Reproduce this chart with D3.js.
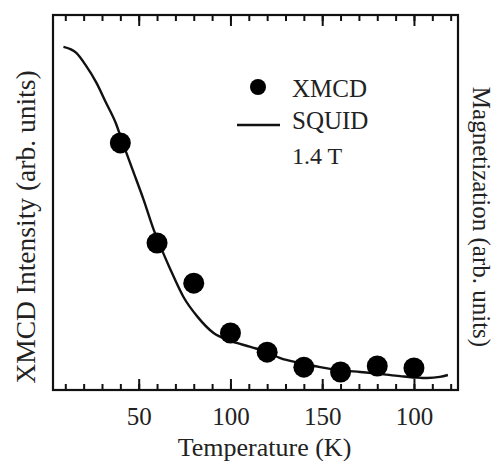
<!DOCTYPE html>
<html>
<head>
<meta charset="utf-8">
<script src="https://cdn.jsdelivr.net/npm/d3@7"></script>
<style>
  html, body { margin: 0; padding: 0; background: #fff; }
  svg { display: block; }
</style>
</head>
<body>
<svg id="chart" width="497" height="461" font-family="Liberation Serif"></svg>
<script>
// XMCD data points (temperature K, intensity arb. units)
const xmcdT = [40, 60, 80, 100, 120, 140, 160, 180, 200];
const xmcdV = [0.659, 0.392, 0.285, 0.152, 0.101, 0.061, 0.048, 0.064, 0.059];

// SQUID magnetization curve at 1.4 T
const squidT = [9, 16, 21, 27, 32, 37.5, 41.3, 46.7, 52.7, 58.2, 62, 67.4, 74.4, 82.1, 90.8, 98.9, 110.9, 120.1, 127.2, 138, 148.9, 159.8, 170.7, 181.5, 192.4, 207.1, 214.1, 218.5];
const squidV = [0.915, 0.899, 0.867, 0.819, 0.768, 0.712, 0.659, 0.587, 0.507, 0.427, 0.381, 0.32, 0.248, 0.195, 0.152, 0.133, 0.115, 0.101, 0.085, 0.072, 0.061, 0.053, 0.048, 0.043, 0.037, 0.032, 0.035, 0.040];

// Tick labels as printed (the last one reads "100" in the original)
const majorTicks = [50, 100, 150, 200];
const majorLabels = ["50", "100", "150", "100"];
const minorTicks = d3.range(10, 221, 10);

const serifStack = "'Liberation Serif', 'Times New Roman', Tinos, serif";
const inkColor = "#222";

const svg = d3.select("#chart");
const L = 53, R = 458, T = 15, B = 390;

const x = d3.scaleLinear().domain([3.3, 224]).range([L, R]);
const y = d3.scaleLinear().domain([0, 1]).range([B, T]);

function label(sel, size) {
  return sel.attr("font-family", "Liberation Serif")
    .style("font-family", serifStack)
    .attr("font-size", size)
    .style("font-size", size + "px")
    .attr("fill", inkColor);
}

// SQUID curve
const line = d3.line().x(d => x(d[0])).y(d => y(d[1])).curve(d3.curveMonotoneX);
svg.append("path")
  .datum(squidT.map((t, i) => [t, squidV[i]]))
  .attr("d", line)
  .attr("fill", "none")
  .attr("stroke", "#111")
  .attr("stroke-width", 2.4);

// XMCD dots
svg.selectAll("circle.pt")
  .data(xmcdT.map((t, i) => [t, xmcdV[i]]))
  .enter().append("circle")
  .attr("class", "pt")
  .attr("cx", d => x(d[0]))
  .attr("cy", d => y(d[1]))
  .attr("r", 10.5)
  .attr("fill", "#000");

// Bottom axis ticks (inward)
const bottomMinor = svg.append("g").attr("transform", `translate(0,${B})`);
bottomMinor.call(d3.axisBottom(x).tickValues(minorTicks).tickSize(-6).tickFormat(""));
const bottomMajor = svg.append("g").attr("transform", `translate(0,${B})`);
bottomMajor.call(d3.axisBottom(x).tickValues(majorTicks).tickSize(-11)
  .tickFormat((d, i) => majorLabels[i]));
// Top axis ticks (inward)
const topMinor = svg.append("g").attr("transform", `translate(0,${T})`);
topMinor.call(d3.axisTop(x).tickValues(minorTicks).tickSize(-6).tickFormat(""));
const topMajor = svg.append("g").attr("transform", `translate(0,${T})`);
topMajor.call(d3.axisTop(x).tickValues(majorTicks).tickSize(-11).tickFormat(""));

svg.selectAll(".domain").remove();
svg.selectAll("g").attr("font-family", "Liberation Serif");
svg.selectAll(".tick line").attr("stroke", "#111").attr("stroke-width", 2);
label(bottomMajor.selectAll(".tick text"), 25)
  .attr("y", 0).attr("dy", 0)
  .attr("transform", "translate(0,35)");

// Frame
svg.append("rect")
  .attr("x", L).attr("y", T).attr("width", R - L).attr("height", B - T)
  .attr("fill", "none").attr("stroke", "#111").attr("stroke-width", 2.2);

// Axis titles
label(svg.append("text"), 26)
  .attr("x", (L + R) / 2 + 9).attr("y", 456)
  .attr("text-anchor", "middle")
  .text("Temperature (K)");

label(svg.append("text"), 27.5)
  .attr("transform", "translate(35,227) rotate(-90)")
  .attr("text-anchor", "middle")
  .text("XMCD Intensity (arb. units)");

label(svg.append("text"), 25)
  .attr("transform", "translate(473,217) rotate(90)")
  .attr("text-anchor", "middle")
  .text("Magnetization (arb. units)");

// Legend
svg.append("circle").attr("cx", 258).attr("cy", 87).attr("r", 8).attr("fill", "#000");
label(svg.append("text"), 25).attr("x", 292).attr("y", 97).text("XMCD");
svg.append("line").attr("x1", 237).attr("x2", 280).attr("y1", 125).attr("y2", 125)
  .attr("stroke", "#111").attr("stroke-width", 2.6);
label(svg.append("text"), 25).attr("x", 292).attr("y", 129).text("SQUID");
label(svg.append("text"), 24).attr("x", 292).attr("y", 164).text("1.4 T");
</script>
</body>
</html>
